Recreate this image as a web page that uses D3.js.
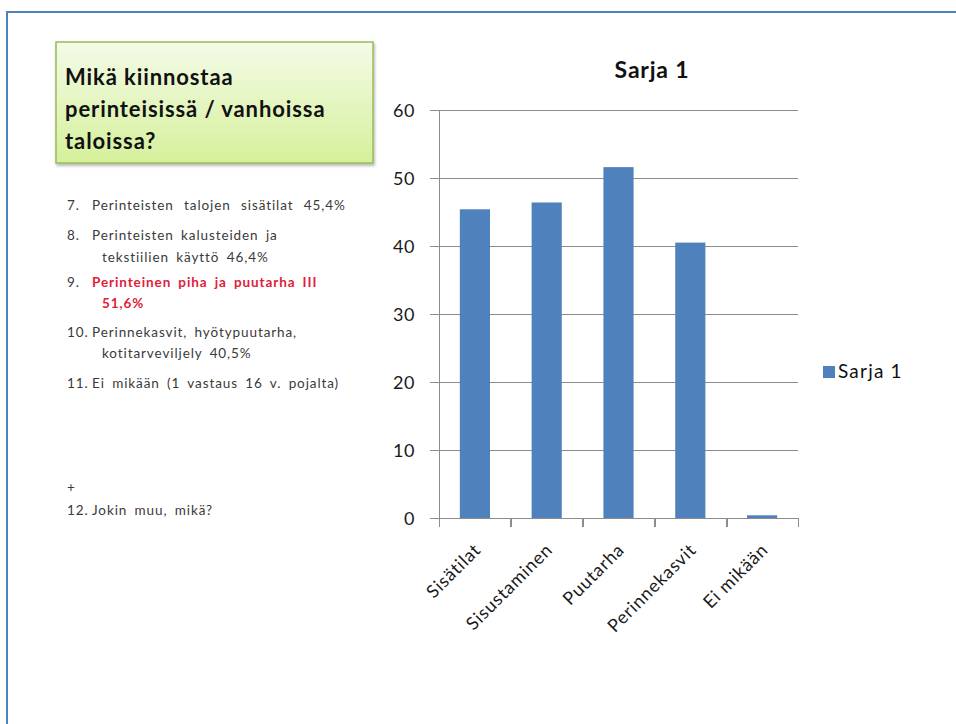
<!DOCTYPE html>
<html lang="fi">

<head>
  <meta charset="utf-8">
  <title>Sarja 1</title>
  <script type="text/javascript" src="https://d3js.org/d3.v7.min.js"></script>
  <style>
    html,
    body {
      margin: 0;
      overflow: hidden;
      background: #ffffff;
    }

    svg {
      display: block;
    }

    svg text {
      font-family: Lato, "Open Sans", sans-serif;
    }

    /* grid */
    .grid line {
      stroke: #8c8c8c;
      stroke-width: 1.6;
      shape-rendering: crispEdges;
    }

    .grid path {
      display: none;
    }

    /* axes */
    .axis path,
    .axis line {
      stroke: #8c8c8c;
      stroke-width: 1.6;
      shape-rendering: crispEdges;
    }

    .axis text {
      fill: #1a1a1a;
      font-size: 18px;
      letter-spacing: 0.5px;
    }

    rect.bar {
      fill: #4f81bd;
    }

    .list text {
      font-size: 13.5px;
      fill: #3a3a3a;
      letter-spacing: 0.9px;
      word-spacing: 3px;
    }

    .list text.wide {
      word-spacing: 6px;
    }
  </style>
</head>

<body>
  <div id="container"></div>
  <script type="text/javascript">
    // data
    var categories = ["Sisätilat", "Sisustaminen", "Puutarha", "Perinnekasvit", "Ei mikään"];
    var values = [45.4, 46.4, 51.6, 40.5, 0.4];
    var yTicks = [0, 10, 20, 30, 40, 50, 60];
    var seriesName = "Sarja 1";

    var titleLines = ["Mikä kiinnostaa", "perinteisissä / vanhoissa", "taloissa?"];
    // [number, text, y, highlight]
    var listLines = [
      ["7.", "Perinteisten talojen sisätilat 45,4%", 210, false],
      ["8.", "Perinteisten kalusteiden ja", 240, false],
      ["", "tekstiilien käyttö 46,4%", 262, false],
      ["9.", "Perinteinen piha ja puutarha III", 287, true],
      ["", "51,6%", 308, true],
      ["10.", "Perinnekasvit, hyötypuutarha,", 337, false],
      ["", "kotitarveviljely 40,5%", 358, false],
      ["11.", "Ei mikään (1 vastaus 16 v. pojalta)", 388, false],
      ["+", "", 492, false],
      ["12.", "Jokin muu, mikä?", 515, false]
    ];

    var W = 956, H = 724;
    var svg = d3.select("div#container").append("svg")
      .attr("width", W)
      .attr("height", H);

    // gradient for the question box
    var defs = svg.append("defs");
    var grad = defs.append("linearGradient")
      .attr("id", "boxGrad")
      .attr("x1", 0).attr("y1", 0).attr("x2", 0).attr("y2", 1);
    grad.append("stop").attr("offset", "0%").attr("stop-color", "#f4fbe8");
    grad.append("stop").attr("offset", "100%").attr("stop-color", "#d5f09a");
    var shadow = defs.append("filter").attr("id", "shadow")
      .attr("x", "-10%").attr("y", "-10%").attr("width", "130%").attr("height", "130%");
    shadow.append("feDropShadow")
      .attr("dx", 1).attr("dy", 2).attr("stdDeviation", 1.5)
      .attr("flood-color", "#000").attr("flood-opacity", 0.3);

    //----------------FRAME (top + left only, the rest is off the page)----------------//
    svg.append("path")
      .attr("d", "M7," + (H + 5) + "V12H" + (W + 5))
      .attr("fill", "none")
      .attr("stroke", "#4f81bd")
      .attr("stroke-width", 2);

    //----------------QUESTION BOX----------------//
    svg.append("rect")
      .attr("x", 56).attr("y", 42)
      .attr("width", 317).attr("height", 121)
      .attr("fill", "url(#boxGrad)")
      .attr("stroke", "#9bbb59")
      .attr("stroke-width", 1.5)
      .attr("filter", "url(#shadow)");

    svg.append("g").selectAll("text")
      .data(titleLines)
      .join("text")
      .attr("x", 65)
      .attr("y", function (d, i) { return 85 + i * 32; })
      .attr("font-size", "22px")
      .attr("font-weight", "bold")
      .attr("letter-spacing", "0.9px")
      .attr("fill", "#111")
      .text(function (d) { return d; });

    //----------------LIST----------------//
    var list = svg.append("g").attr("class", "list");
    listLines.forEach(function (d, i) {
      if (d[0]) {
        list.append("text")
          .attr("x", 67)
          .attr("y", d[2])
          .text(d[0]);
      }
      if (d[1]) {
        list.append("text")
          .attr("class", i === 0 ? "wide" : null)
          .attr("x", d[0] ? 92 : 102)
          .attr("y", d[2])
          .attr("font-weight", d[3] ? "bold" : null)
          .style("fill", d[3] ? "#e0203a" : null)
          .text(d[1]);
      }
    });

    //----------------CHART----------------//
    var plot = { left: 439, right: 798, top: 110, bottom: 518 };

    var xScale = d3.scaleBand()
      .domain(categories)
      .range([plot.left, plot.right])
      .paddingInner(0.58)
      .paddingOuter(0.29);

    var xTicks = d3.scaleLinear()
      .domain([0, categories.length])
      .range([plot.left, plot.right]);

    var yScale = d3.scaleLinear()
      .domain([0, 60])
      .range([plot.bottom, plot.top]);

    // grid
    svg.append("g")
      .attr("class", "grid")
      .attr("transform", "translate(" + plot.left + ",0)")
      .call(d3.axisLeft(yScale).tickValues(yTicks).tickFormat("")
        .tickSize(-(plot.right - plot.left)));

    // y axis
    svg.append("g")
      .attr("class", "axis")
      .attr("transform", "translate(" + plot.left + ",0)")
      .call(d3.axisLeft(yScale).tickValues(yTicks).tickSize(9).tickSizeOuter(0).tickPadding(15))
      .call(function (g) { g.selectAll("text").attr("dy", "0.36em"); });

    // bars
    svg.append("g").selectAll("rect")
      .data(values)
      .join("rect")
      .attr("class", "bar")
      .attr("x", function (d, i) { return xScale(categories[i]); })
      .attr("width", xScale.bandwidth())
      .attr("y", function (d) { return yScale(d); })
      .attr("height", function (d) { return plot.bottom - yScale(d); });

    // x axis (ticks between categories)
    svg.append("g")
      .attr("class", "axis")
      .attr("transform", "translate(0," + plot.bottom + ")")
      .call(d3.axisBottom(xTicks).tickValues(d3.range(categories.length + 1))
        .tickFormat("").tickSize(9).tickSizeOuter(0));

    svg.append("g").selectAll("text")
      .data(categories)
      .join("text")
      .attr("transform", function (d) {
        return "translate(" + (xScale(d) + xScale.bandwidth() / 2 + 7) + "," + (plot.bottom + 33) + ") rotate(-45)";
      })
      .attr("text-anchor", "end")
      .attr("font-size", "18px")
      .attr("letter-spacing", "0.8px")
      .attr("fill", "#1a1a1a")
      .text(function (d) { return d; });

    // title
    svg.append("text")
      .attr("x", 652)
      .attr("y", 78)
      .attr("text-anchor", "middle")
      .attr("font-size", "23px")
      .attr("font-weight", "bold")
      .attr("letter-spacing", "0.8px")
      .attr("fill", "#111")
      .text(seriesName);

    // legend
    var legend = svg.append("g").attr("transform", "translate(823,366)");
    legend.append("rect")
      .attr("width", 12).attr("height", 12)
      .attr("fill", "#4f81bd");
    legend.append("text")
      .attr("x", 15).attr("y", 12)
      .attr("font-size", "19px")
      .attr("letter-spacing", "1.2px")
      .attr("fill", "#111")
      .text(seriesName);
  </script>
</body>

</html>
